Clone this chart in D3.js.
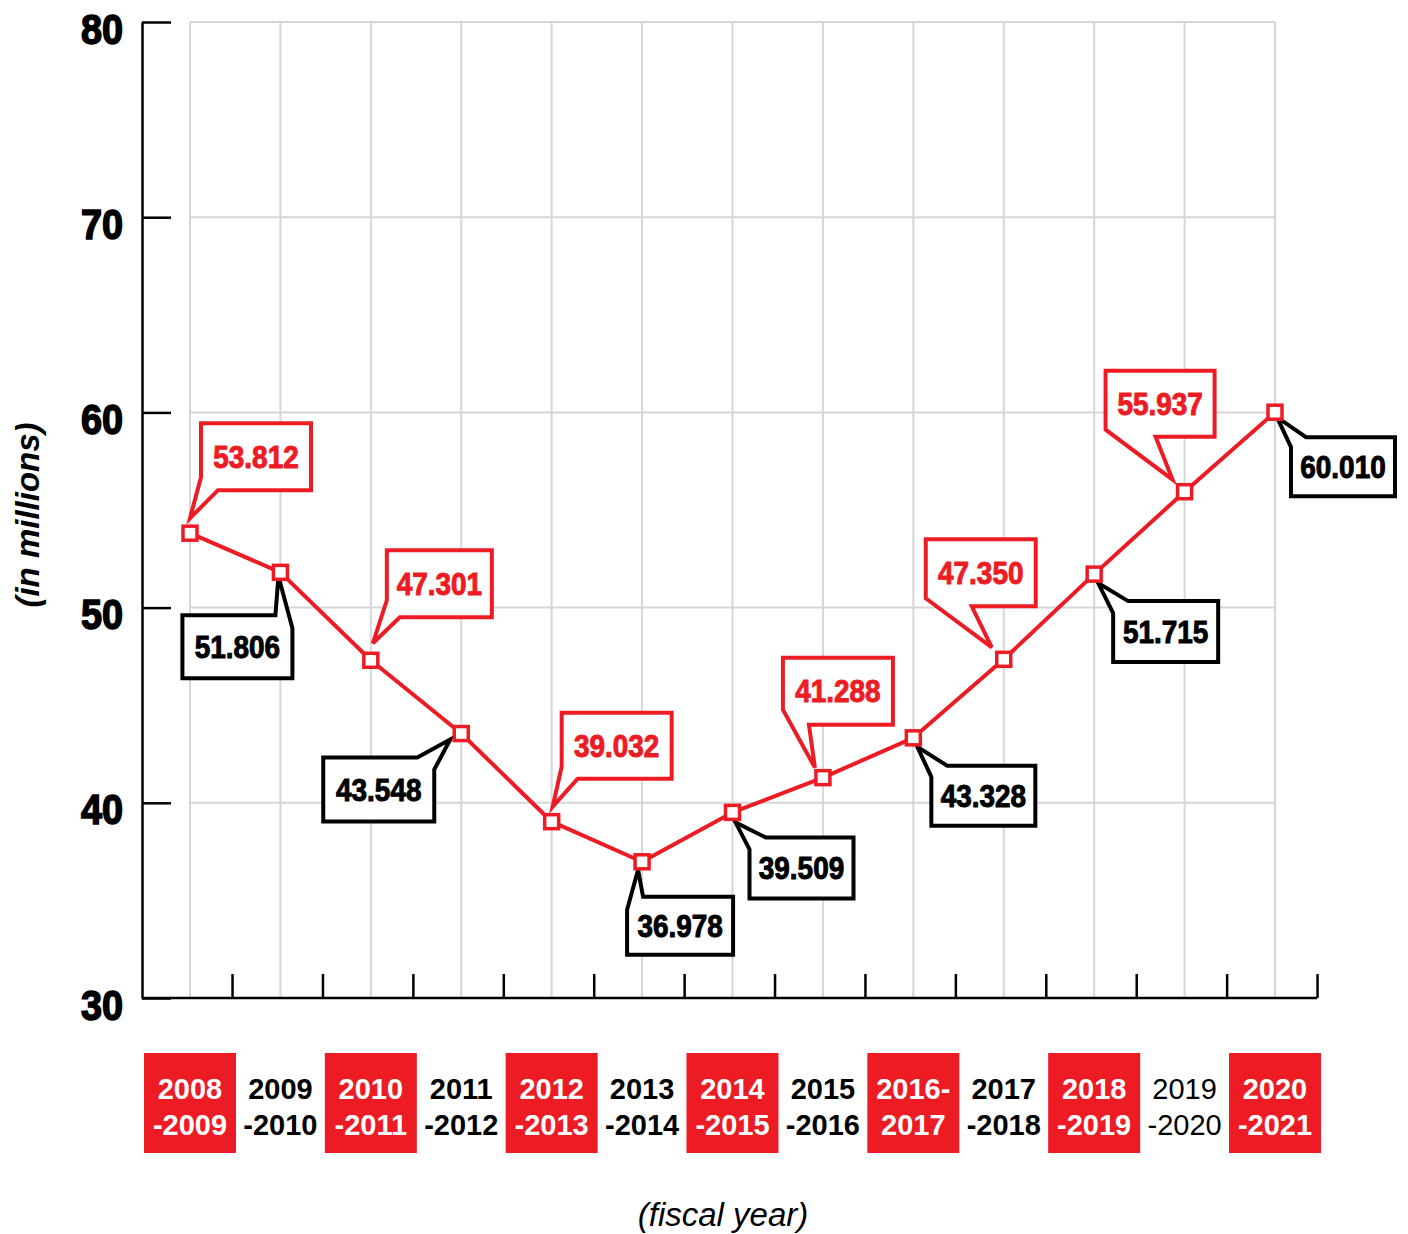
<!DOCTYPE html>
<html>
<head>
<meta charset="utf-8">
<script src="https://cdn.jsdelivr.net/npm/d3@7/dist/d3.min.js"></script>
<style>
  html, body { margin: 0; padding: 0; background: #fff; }
  svg { display: block; }
</style>
</head>
<body>
<div id="chart"></div>
<script>
// ---------------- DATA ----------------
const fiscalYears = [
  ["2008", "-2009"], ["2009", "-2010"], ["2010", "-2011"], ["2011", "-2012"],
  ["2012", "-2013"], ["2013", "-2014"], ["2014", "-2015"], ["2015", "-2016"],
  ["2016-", "2017"], ["2017", "-2018"], ["2018", "-2019"], ["2019", "-2020"],
  ["2020", "-2021"]
];
const values = [53.812, 51.806, 47.301, 43.548, 39.032, 36.978, 39.509,
                41.288, 43.328, 47.350, 51.715, 55.937, 60.010];
const valueLabels = ["53.812", "51.806", "47.301", "43.548", "39.032", "36.978", "39.509",
                     "41.288", "43.328", "47.350", "51.715", "55.937", "60.010"];
const yTicks = [30, 40, 50, 60, 70, 80];
const yTitle = "(in millions)";
const xTitle = "(fiscal year)";

// ---------------- STYLE / LAYOUT ----------------
const RED = "#ed1c24";
const GRID = "#d6d6d6";
const W = 1408, H = 1234;
const sans = "'Liberation Sans', Arial, Helvetica, sans-serif";

const highlightedLabel = i => i % 2 === 0;
const lightLabel = i => i === 11;

// callout layout: box offset from point (dx, dy), size (w, h), wedge corner,
// s = offset along vertical edge, t = offset along horizontal edge, tip offset from point
const callouts = [
  { red: true,  dx: 11,   dy: -110, w: 110, h: 67, c: "bl", s: 13, t: 17, tip: [0, -15] },
  { red: false, dx: -98,  dy: 43,   w: 110, h: 63, c: "tr", s: 13, t: 17, tip: [-2, 4] },
  { red: true,  dx: 16,   dy: -110, w: 105, h: 67, c: "bl", s: 17, t: 13, tip: [2, -17] },
  { red: false, dx: -138, dy: 24,   w: 111, h: 64, c: "tr", s: 12, t: 17, tip: [-11, 6] },
  { red: true,  dx: 10,   dy: -109, w: 110, h: 66, c: "bl", s: 12, t: 16, tip: [1, -15] },
  { red: false, dx: -15,  dy: 35,   w: 106, h: 58, c: "tl", s: 13, t: 16, tip: [-4, 8] },
  { red: false, dx: 17,   dy: 25,   w: 104, h: 61, c: "tl", s: 12, t: 16, tip: [3, 10] },
  { red: true,  dx: -40,  dy: -120, w: 110, h: 67, c: "bl", s: 15, t: 26, tip: [-8, -10] },
  { red: false, dx: 18,   dy: 28,   w: 104, h: 60, c: "tl", s: 11, t: 16, tip: [4, 9] },
  { red: true,  dx: -78,  dy: -120, w: 110, h: 67, c: "bl", s: 8,  t: 46, tip: [-12, -12] },
  { red: false, dx: 19,   dy: 27,   w: 105, h: 61, c: "tl", s: 12, t: 15, tip: [4, 9] },
  { red: true,  dx: -79,  dy: -121, w: 109, h: 66, c: "bl", s: 7,  t: 50, tip: [-12, -12] },
  { red: false, dx: 16,   dy: 25,   w: 104, h: 59, c: "tl", s: 10, t: 15, tip: [2, 5] }
];

// ---------------- SCALES ----------------
const idx = d3.range(values.length);
const x = d3.scaleLinear().domain([0, values.length - 1]).range([190, 1275]);
const y = d3.scaleLinear().domain([30, 80]).range([998, 22]);
const axisX = 142;

const svg = d3.select("#chart").append("svg")
  .attr("width", W).attr("height", H)
  .attr("viewBox", `0 0 ${W} ${H}`);

// ---------------- GRID ----------------
const grid = svg.append("g");
grid.selectAll("line.h").data(yTicks.filter(t => t > 30)).join("line")
  .attr("x1", x(0)).attr("x2", x(values.length - 1))
  .attr("y1", d => y(d)).attr("y2", d => y(d))
  .attr("stroke", GRID).attr("stroke-width", 2);
grid.selectAll("line.v").data(idx).join("line")
  .attr("x1", d => x(d)).attr("x2", d => x(d))
  .attr("y1", y(80)).attr("y2", y(30))
  .attr("stroke", GRID).attr("stroke-width", 2);

// ---------------- Y AXIS ----------------
const yAxis = d3.axisLeft(y).tickValues(yTicks).tickSizeInner(-29).tickSizeOuter(0).tickFormat("");
const gy = svg.append("g").attr("transform", `translate(${axisX},0)`).call(yAxis);
gy.select(".domain").attr("stroke", "#000").attr("stroke-width", 2.5);
gy.selectAll(".tick line").attr("stroke", "#000").attr("stroke-width", 2.5);
gy.selectAll(".tick").append("g")
  .attr("transform", "translate(-19,21) scale(0.88,1)")
  .append("text")
  .attr("text-anchor", "end")
  .attr("font-family", sans).attr("font-weight", "bold")
  .attr("font-size", 43).attr("fill", "#000")
  .attr("stroke", "#000").attr("stroke-width", 1.6)
  .text(d => d);

// ---------------- X AXIS ----------------
const xTickPos = idx.map(i => i + 0.465);
svg.append("line")
  .attr("x1", axisX).attr("x2", x(xTickPos[xTickPos.length - 1]))
  .attr("y1", y(30)).attr("y2", y(30))
  .attr("stroke", "#000").attr("stroke-width", 2.5);
const xAxis = d3.axisBottom(x).tickValues(xTickPos).tickSizeInner(-24).tickSizeOuter(0).tickFormat("");
const gx = svg.append("g").attr("transform", `translate(0,${y(30)})`).call(xAxis);
gx.select(".domain").remove();
gx.selectAll(".tick line").attr("stroke", "#000").attr("stroke-width", 2.5);

// ---------------- CATEGORY LABELS ----------------
const lab = svg.append("g");
const boxW = 92;
lab.selectAll("rect").data(idx.filter(highlightedLabel)).join("rect")
  .attr("x", d => x(d) - boxW / 2).attr("y", 1053)
  .attr("width", boxW).attr("height", 100)
  .attr("fill", RED);
const lt = lab.selectAll("text").data(idx).join("text")
  .attr("text-anchor", "middle")
  .attr("font-family", sans)
  .attr("font-size", 29)
  .attr("font-weight", d => lightLabel(d) ? "normal" : "bold")
  .attr("fill", d => highlightedLabel(d) ? "#fff" : "#000");
lt.append("tspan").attr("x", d => x(d)).attr("y", 1099).text(d => fiscalYears[d][0]);
lt.append("tspan").attr("x", d => x(d)).attr("y", 1135).text(d => fiscalYears[d][1]);

// ---------------- LINE ----------------
const line = d3.line().x(d => x(d)).y(d => y(values[d]));
svg.append("path").datum(idx).attr("d", line)
  .attr("fill", "none").attr("stroke", RED).attr("stroke-width", 4)
  .attr("stroke-linejoin", "round");

// ---------------- CALLOUTS ----------------
function calloutPath(i) {
  const c = callouts[i];
  const px = x(i), py = y(values[i]);
  const x0 = px + c.dx, y0 = py + c.dy, x1 = x0 + c.w, y1 = y0 + c.h;
  const tip = [px + c.tip[0], py + c.tip[1]];
  let pts;
  if (c.c === "tl") pts = [[x0, y0 + c.s], tip, [x0 + c.t, y0], [x1, y0], [x1, y1], [x0, y1]];
  else if (c.c === "tr") pts = [[x0, y0], [x1 - c.t, y0], tip, [x1, y0 + c.s], [x1, y1], [x0, y1]];
  else if (c.c === "bl") pts = [[x0, y0], [x1, y0], [x1, y1], [x0 + c.t, y1], tip, [x0, y1 - c.s]];
  else pts = [[x0, y0], [x1, y0], [x1, y1 - c.s], tip, [x1 - c.t, y1], [x0, y1]];
  return "M" + pts.map(p => p.join(",")).join("L") + "Z";
}
const cg = svg.append("g");
cg.selectAll("path").data(idx).join("path")
  .attr("d", calloutPath)
  .attr("fill", "#fff")
  .attr("stroke", d => callouts[d].red ? RED : "#000")
  .attr("stroke-width", 4)
  .attr("stroke-linejoin", "miter");
cg.selectAll("g.lbl").data(idx).join("g")
  .attr("class", "lbl")
  .attr("transform", d => `translate(${x(d) + callouts[d].dx + callouts[d].w / 2},${y(values[d]) + callouts[d].dy + callouts[d].h / 2 + 11}) scale(0.9,1)`)
  .append("text")
  .attr("text-anchor", "middle")
  .attr("font-family", sans).attr("font-weight", "bold")
  .attr("font-size", 31)
  .attr("fill", d => callouts[d].red ? RED : "#000")
  .attr("stroke", d => callouts[d].red ? RED : "#000")
  .attr("stroke-width", 1)
  .text(d => valueLabels[d]);

// ---------------- MARKERS ----------------
svg.append("g").selectAll("rect").data(idx).join("rect")
  .attr("x", d => x(d) - 7).attr("y", d => y(values[d]) - 7)
  .attr("width", 14).attr("height", 14)
  .attr("fill", "#fff").attr("stroke", RED).attr("stroke-width", 3.5);

// ---------------- TITLES ----------------
svg.append("text")
  .attr("transform", "translate(39,515) rotate(-90)")
  .attr("text-anchor", "middle")
  .attr("font-family", sans).attr("font-weight", "bold").attr("font-style", "italic")
  .attr("font-size", 33).attr("fill", "#000")
  .text(yTitle);
svg.append("text")
  .attr("x", 723).attr("y", 1226)
  .attr("text-anchor", "middle")
  .attr("font-family", sans).attr("font-style", "italic")
  .attr("font-size", 33).attr("fill", "#000")
  .text(xTitle);
</script>
</body>
</html>
